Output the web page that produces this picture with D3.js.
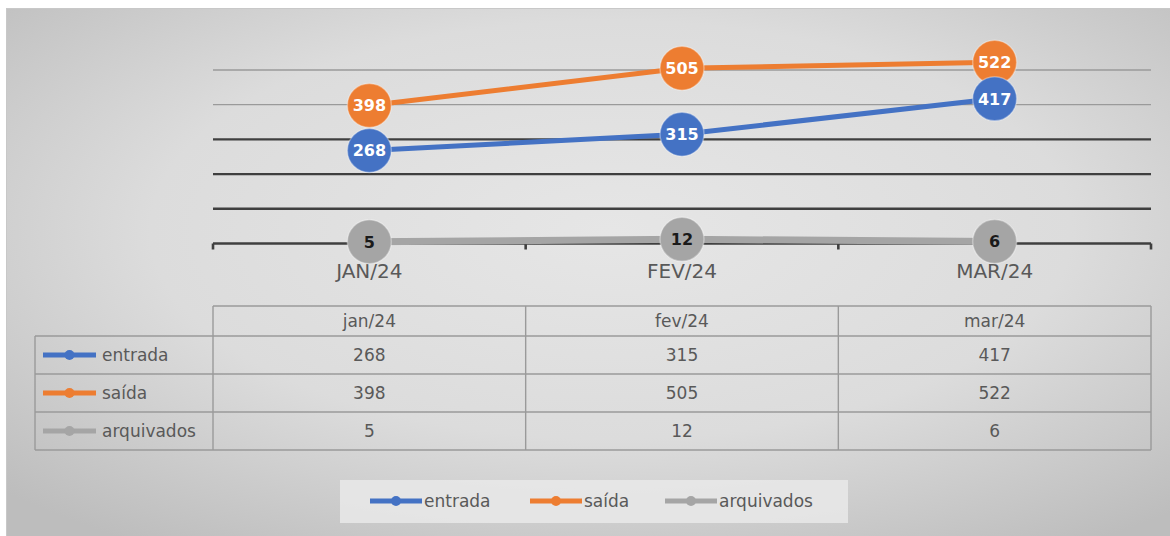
<!DOCTYPE html>
<html>
<head>
<meta charset="utf-8">
<script src="https://cdn.jsdelivr.net/npm/d3@7"></script>
<style>
  html, body { margin: 0; padding: 0; background: #ffffff; }
  svg { display: block; }
  text { font-family: "DejaVu Sans", "Noto Sans", sans-serif; }
</style>
</head>
<body>
<svg id="chart" width="1170" height="536"></svg>
<script>
// ---- data ----
const categories = ["JAN/24", "FEV/24", "MAR/24"];
const tableHeaders = ["jan/24", "fev/24", "mar/24"];
const seriesNames = ["entrada", "saída", "arquivados"];
const entrada = [268, 315, 417];
const saida = [398, 505, 522];
const arquivados = [5, 12, 6];
const gridTicks = [100, 200, 300, 400, 500];

const seriesValues = [entrada, saida, arquivados];
const seriesColors = ["#4472c4", "#ed7d31", "#a5a5a5"];

const svg = d3.select("#chart");
const W = 1170, H = 536;

// ---- background ----
const defs = svg.append("defs");
const rg = defs.append("radialGradient").attr("id", "bg")
  .attr("cx", "0.52").attr("cy", "0.42").attr("r", "0.72");
rg.append("stop").attr("offset", "0").attr("stop-color", "#e6e6e6");
rg.append("stop").attr("offset", "0.55").attr("stop-color", "#dcdcdc");
rg.append("stop").attr("offset", "1").attr("stop-color", "#bdbdbd");

svg.append("rect").attr("x", 6).attr("y", 8).attr("width", W - 6).attr("height", H - 8)
  .attr("fill", "url(#bg)");
svg.append("line").attr("x1", 6).attr("x2", W).attr("y1", 8.5).attr("y2", 8.5)
  .attr("stroke", "#c8c8c8").attr("stroke-width", 1);
svg.append("line").attr("x1", 6.5).attr("x2", 6.5).attr("y1", 8).attr("y2", H)
  .attr("stroke", "#c8c8c8").attr("stroke-width", 1);

// ---- scales ----
const plotL = 213, plotR = 1151;
const x = d3.scaleBand().domain(categories).range([plotL, plotR]).padding(0);
const cx = c => x(c) + x.bandwidth() / 2;
const y = d3.scaleLinear().domain([0, 500]).range([243.5, 70]);

// ---- gridlines ----
svg.append("g").selectAll("line").data(gridTicks).join("line")
  .attr("x1", plotL).attr("x2", plotR)
  .attr("y1", d => y(d)).attr("y2", d => y(d))
  .attr("stroke", d => d >= 400 ? "#9a9a9a" : "#3f3f3f")
  .attr("stroke-width", d => d >= 400 ? 1.3 : 2.4);

// ---- x axis ----
const axisG = svg.append("g");
axisG.append("line").attr("x1", plotL).attr("x2", plotR)
  .attr("y1", y(0)).attr("y2", y(0))
  .attr("stroke", "#3f3f3f").attr("stroke-width", 2.6);
const boundaries = categories.map(c => x(c)).concat([x(categories[categories.length - 1]) + x.bandwidth()]);
axisG.selectAll("line.tick").data(boundaries).join("line").attr("class", "tick")
  .attr("x1", d => d).attr("x2", d => d)
  .attr("y1", y(0)).attr("y2", y(0) + 6)
  .attr("stroke", "#3f3f3f").attr("stroke-width", 2.6);

const labelAxis = d3.axisBottom(x).tickSize(0).tickPadding(0);
const labelG = svg.append("g").attr("transform", `translate(0,${y(0) + 20})`).call(labelAxis);
labelG.select(".domain").remove();
labelG.selectAll("text")
  .attr("dy", "0.71em")
  .attr("fill", "#595959")
  .style("font-size", "20px")
  .style("font-family", '"DejaVu Sans", sans-serif');

// ---- lines ----
const lineGen = d3.line().x((d, i) => cx(categories[i])).y(d => y(d));
const drawOrder = [0, 1, 2];
drawOrder.forEach(s => {
  svg.append("path").datum(seriesValues[s])
    .attr("d", lineGen)
    .attr("fill", "none")
    .attr("stroke", seriesColors[s])
    .attr("stroke-width", s === 2 ? 7 : 5)
    .attr("stroke-linecap", "round");
});

// ---- markers with labels ----
const markerOrder = [1, 0, 2];
markerOrder.forEach(s => {
  const g = svg.append("g");
  const pts = seriesValues[s].map((v, i) => ({ v, c: categories[i] }));
  g.selectAll("circle").data(pts).join("circle")
    .attr("cx", d => cx(d.c)).attr("cy", d => y(d.v)).attr("r", 22)
    .attr("fill", seriesColors[s])
    .attr("stroke", "#ffffff").attr("stroke-opacity", 0.35).attr("stroke-width", 1.5);
  g.selectAll("text").data(pts).join("text")
    .attr("x", d => cx(d.c)).attr("y", d => y(d.v))
    .attr("text-anchor", "middle").attr("dy", "0.36em")
    .attr("fill", s === 2 ? "#1a1a1a" : "#ffffff")
    .style("font-size", "16px").style("font-weight", "bold")
    .text(d => d.v);
});

// ---- data table ----
const tbl = svg.append("g");
const rowY = [306, 336, 374, 412, 450];
const tblLeft = 35;
const lineColor = "#9a9a9a";
tbl.selectAll("line.h").data(rowY).join("line").attr("class", "h")
  .attr("x1", (d, i) => i === 0 ? plotL : tblLeft).attr("x2", plotR)
  .attr("y1", d => d).attr("y2", d => d)
  .attr("stroke", lineColor).attr("stroke-width", 1.4);
const vX = [tblLeft].concat(boundaries);
tbl.selectAll("line.v").data(vX).join("line").attr("class", "v")
  .attr("x1", d => d).attr("x2", d => d)
  .attr("y1", (d, i) => i === 0 ? rowY[1] : rowY[0]).attr("y2", rowY[rowY.length - 1])
  .attr("stroke", lineColor).attr("stroke-width", 1.4);
tbl.selectAll("text.hd").data(tableHeaders).join("text").attr("class", "hd")
  .attr("x", (d, i) => cx(categories[i])).attr("y", (rowY[0] + rowY[1]) / 2)
  .attr("text-anchor", "middle").attr("dy", "0.36em")
  .attr("fill", "#595959").style("font-size", "17px")
  .text(d => d);
seriesNames.forEach((name, s) => {
  const yc = (rowY[s + 1] + rowY[s + 2]) / 2;
  const lg = tbl.append("g");
  lg.append("line").attr("x1", 43).attr("x2", 96).attr("y1", yc).attr("y2", yc)
    .attr("stroke", seriesColors[s]).attr("stroke-width", 5);
  lg.append("circle").attr("cx", 69.5).attr("cy", yc).attr("r", 5).attr("fill", seriesColors[s]);
  lg.append("text").attr("x", 102).attr("y", yc).attr("dy", "0.36em")
    .attr("fill", "#595959").style("font-size", "17px").text(name);
  tbl.append("g").selectAll("text").data(seriesValues[s]).join("text")
    .attr("x", (d, i) => cx(categories[i])).attr("y", yc)
    .attr("text-anchor", "middle").attr("dy", "0.36em")
    .attr("fill", "#595959").style("font-size", "17px")
    .text(d => d);
});

// ---- legend ----
const leg = svg.append("g");
leg.append("rect").attr("x", 340).attr("y", 480).attr("width", 508).attr("height", 43)
  .attr("fill", "#e9e9e9").attr("fill-opacity", 0.85);
const legX = [370, 530, 665];
const legY = 501;
seriesNames.forEach((name, s) => {
  const g = leg.append("g").attr("transform", `translate(${legX[s]},${legY})`);
  g.append("line").attr("x1", 0).attr("x2", 52).attr("y1", 0).attr("y2", 0)
    .attr("stroke", seriesColors[s]).attr("stroke-width", 5);
  g.append("circle").attr("cx", 26).attr("cy", 0).attr("r", 5).attr("fill", seriesColors[s]);
  g.append("text").attr("x", 54).attr("y", 0).attr("dy", "0.36em")
    .attr("fill", "#595959").style("font-size", "17px").text(name);
});
</script>
</body>
</html>
